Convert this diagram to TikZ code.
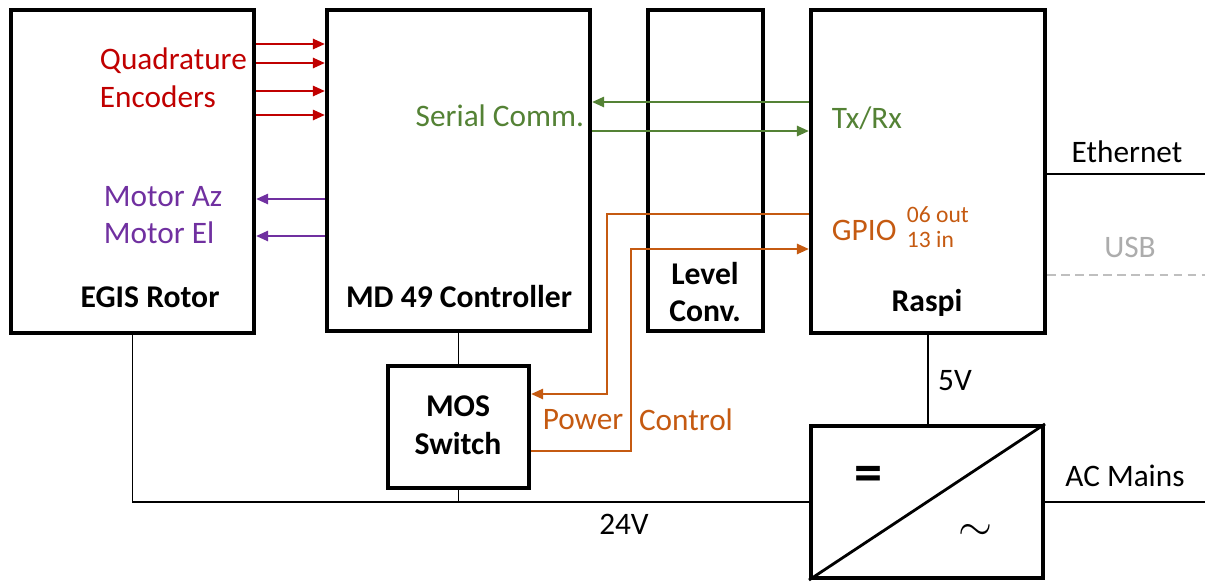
\documentclass[tikz,border=0pt]{standalone}
\usepackage{fontspec}
\setmainfont{Carlito}
\usetikzlibrary{arrows.meta, positioning, calc}
\definecolor{cred}{HTML}{C00000}
\definecolor{cpurple}{HTML}{7030A0}
\definecolor{cgreen}{HTML}{548235}
\definecolor{corange}{HTML}{C55A11}
\definecolor{cgrey}{HTML}{BFBFBF}
\tikzset{
  every picture/.style={font=\fontsize{17.8}{21.5}\selectfont, line width=1.1pt},
  box/.style={draw, line width=2.3pt, inner sep=0pt},
  boxlabel/.style={font=\fontsize{18}{21.5}\selectfont\bfseries, align=center},
  sig/.style={-{Triangle[length=2.4mm, width=2mm]}, draw=#1, line width=1.4pt},
  txt/.style={text=#1, align=left, inner sep=0pt},
  txt/.default=black,
  small/.style={font=\fontsize{13.4}{14}\selectfont, text=corange, align=left, inner sep=0pt},
}

\begin{document}
\begin{tikzpicture}
  \useasboundingbox (0,0) rectangle (24.1,-11.62);
  % blocks
  \node[box, minimum width=4.86cm, minimum height=6.46cm] (egis) at (2.65,-3.43) {};
  \node[box, minimum width=5.26cm, minimum height=6.42cm] (md) at (9.17,-3.41) {};
  \node[box, minimum width=2.3cm, minimum height=6.42cm] (lvl) at (14.11,-3.41) {};
  \node[box, minimum width=4.68cm, minimum height=6.46cm] (raspi) at (18.56,-3.43) {};
  \node[box, minimum width=2.82cm, minimum height=2.44cm] (mos) at (9.17,-8.54) {};
  \node[box, minimum width=4.64cm, minimum height=3.04cm] (conv) at (18.54,-10.04) {};
  \draw[line width=1.6pt] (conv.south west) -- (conv.north east);
  % block labels
  \node[boxlabel] (egisname) at (3.0,-5.94) {EGIS Rotor};
  \node[boxlabel] (mdname) at (9.18,-5.94) {MD 49 Controller};
  \node[boxlabel] (lvlname) at (14.1,-5.84) {Level\\Conv.};
  \node[boxlabel] (raspiname) at (18.54,-6.06) {Raspi};
  \node[boxlabel] (mosname) at (9.16,-8.5) {MOS\\Switch};
  \node[font=\fontsize{32}{32}\selectfont\bfseries] (dc) at (17.36,-9.58) {=};
  \node[font=\fontsize{26}{26}\selectfont] (ac) at (19.5,-10.64) {$\sim$};
  % encoder and motor lines
  \foreach \y in {0.88,1.26,1.82,2.30}
    \draw[sig=cred] (egis.east |- 0,-\y) -- (md.west |- 0,-\y);
  \foreach \y in {3.98,4.72}
    \draw[sig=cpurple] (md.west |- 0,-\y) -- (egis.east |- 0,-\y);
  \node[txt=cred, anchor=west] (quad) at (1.98,-1.56) {Quadrature\\Encoders};
  \node[txt=cpurple, anchor=west] (motor) at (2.06,-4.30) {Motor Az\\Motor El};
  % serial
  \draw[sig=cgreen] (raspi.west |- 0,-2.04) -- (md.east |- 0,-2.04);
  \draw[sig=cgreen] (md.east |- 0,-2.62) -- (raspi.west |- 0,-2.62);
  \node[txt=cgreen, anchor=east] (serial) at (11.7,-2.32) {Serial Comm.};
  \node[txt=cgreen, anchor=west] (txrx) at (16.62,-2.36) {Tx/Rx};
  % power control
  \draw[sig=corange] (raspi.west |- 0,-4.28) -| (12.14,-7.88) -- (mos.east |- 0,-7.88);
  \draw[sig=corange] (mos.east |- 0,-9.02) -| (12.62,-4.98) -- (raspi.west |- 0,-4.98);
  \node[txt=corange, anchor=west] (gpio) at (16.62,-4.6) {GPIO};
  \node[small, anchor=west] (pins) at (18.12,-4.54) {06 out\\13 in};
  \node[txt=corange] (power) at (11.66,-8.4) {Power};
  \node[txt=corange] (control) at (13.72,-8.4) {Control};
  % supply
  \coordinate (eth) at (24.1,-3.48);
  \coordinate (usb) at (24.1,-5.5);
  \coordinate (mains) at (24.1,-10.04);
  \draw (md.south) -- (mos.north);
  \draw (mos.south) -- (mos.south |- conv.west);
  \draw (egis.south) |- (conv.west);
  \draw (raspi.south) -- (raspi.south |- conv.north);
  \draw (conv.east) -- (mains);
  \draw (raspi.east |- eth) -- (eth);
  \draw[cgrey, dash pattern=on 5pt off 3pt] (raspi.east |- usb) -- (usb);
  \node[txt] (ethname) at (22.54,-3.04) {Ethernet};
  \node[txt=cgrey!90!black] (usbname) at (22.6,-4.94) {USB};
  \node[txt] (fivev) at (19.1,-7.62) {5V};
  \node[txt] (mainsname) at (22.5,-9.52) {AC Mains};
  \node[txt] (tfv) at (12.48,-10.48) {24V};
\end{tikzpicture}
\end{document}
